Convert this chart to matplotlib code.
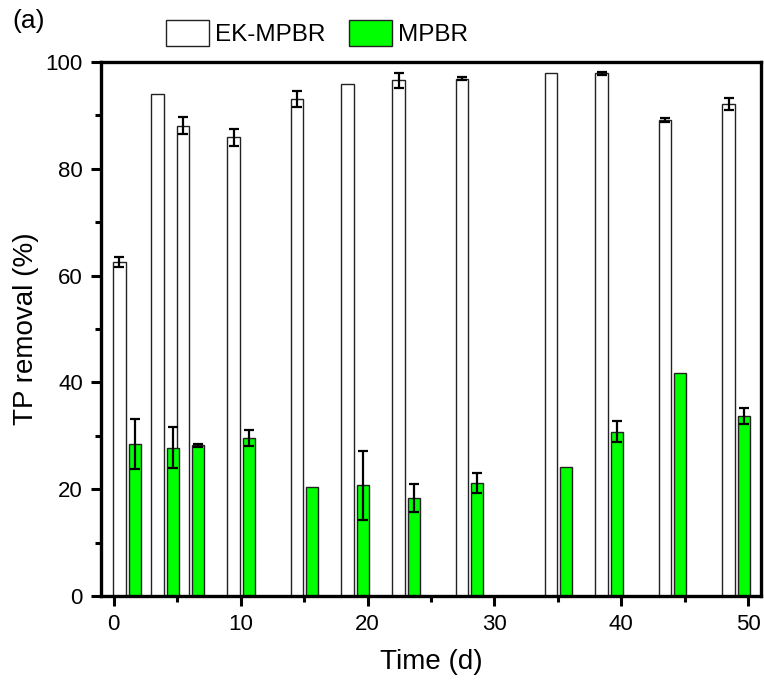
import numpy as np
import matplotlib
matplotlib.use("Agg")
import matplotlib.pyplot as plt
from matplotlib.ticker import MultipleLocator
from matplotlib.patches import Patch

plt.rcParams['font.family'] = ['Liberation Sans', 'DejaVu Sans']

# sampling days
days = np.array([1, 4, 6, 10, 15, 19, 23, 28, 35, 39, 44, 49])

# TP removal (%) and standard deviations
ek_mpbr = [62.6, 94.0, 88.1, 85.9, 93.0, 95.8, 96.6, 96.9, 98.0, 97.9, 89.1, 92.1]
ek_err = [0.9, 0.0, 1.6, 1.6, 1.5, 0.0, 1.4, 0.3, 0.0, 0.3, 0.4, 1.1]
mpbr = [28.5, 27.8, 28.2, 29.5, 20.5, 20.7, 18.3, 21.1, 24.1, 30.8, 41.7, 33.7]
mpbr_err = [4.7, 3.9, 0.3, 1.5, 0.0, 6.5, 2.6, 1.9, 0.0, 1.9, 0.0, 1.5]

fig = plt.figure(figsize=(7.64, 6.88), dpi=100)
ax = fig.add_axes([0.1322, 0.1337, 0.8638, 0.7762])

ekx = days - 0.55
mx = days + 0.65

ax.bar(ekx, ek_mpbr, width=1.0, color='white', edgecolor='#222222', linewidth=1.0, zorder=2)
ax.bar(mx, mpbr, width=0.95, color='#00ff00', edgecolor='#222222', linewidth=1.0, zorder=2)

ekm = np.array(ek_err) > 0
ax.errorbar(ekx[ekm], np.array(ek_mpbr)[ekm], yerr=np.array(ek_err)[ekm], fmt='none',
            ecolor='black', elinewidth=1.6, capsize=3.5, capthick=1.6, zorder=3)
mm = np.array(mpbr_err) > 0
ax.errorbar(mx[mm], np.array(mpbr)[mm], yerr=np.array(mpbr_err)[mm], fmt='none',
            ecolor='black', elinewidth=1.6, capsize=3.5, capthick=1.6, zorder=3)

ax.set_xlim(-1, 51)
ax.set_ylim(0, 100)
ax.xaxis.set_major_locator(MultipleLocator(10))
ax.xaxis.set_minor_locator(MultipleLocator(5))
ax.yaxis.set_major_locator(MultipleLocator(20))
ax.yaxis.set_minor_locator(MultipleLocator(10))
ax.tick_params(which='major', direction='out', length=7, width=2.2, labelsize=16, pad=6)
ax.tick_params(which='minor', direction='out', length=4, width=2.2)
ax.tick_params(top=False, right=False, which='both')
for s in ax.spines.values():
    s.set_linewidth(2.4)

ax.set_xlabel('Time (d)', fontsize=20, labelpad=10)
ax.set_ylabel('TP removal (%)', fontsize=20, labelpad=5)

handles = [Patch(facecolor='white', edgecolor='#222222', linewidth=1.0),
           Patch(facecolor='#00ff00', edgecolor='#222222', linewidth=1.0)]
fig.legend(handles, ['EK-MPBR', 'MPBR'], loc='center', bbox_to_anchor=(0.415, 0.952),
           ncol=2, frameon=False, fontsize=17.5, handlelength=1.75, handleheight=1.3,
           handletextpad=0.25, columnspacing=1.0)

fig.text(0.016, 0.969, '(a)', fontsize=19, ha='left', va='center')

fig.savefig('out.png', dpi=100)
